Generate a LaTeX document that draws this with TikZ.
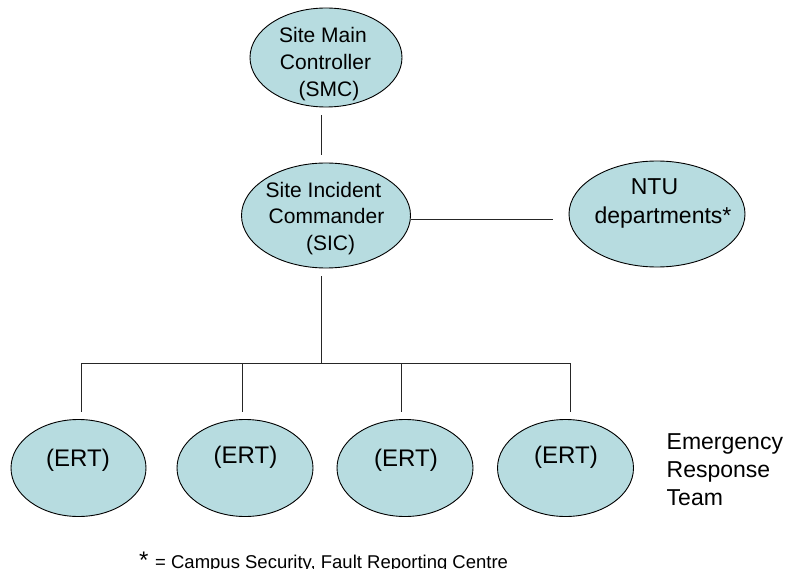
\documentclass[tikz,border=0pt]{standalone}
\usepackage{fontspec}
\setmainfont{Liberation Sans}
\usetikzlibrary{shapes.geometric}
\definecolor{fillblue}{RGB}{183,220,224}
\begin{document}
\begin{tikzpicture}[x=1pt,y=-1pt,
  oval/.style={ellipse, draw=black, line width=0.9pt, fill=fillblue, inner sep=0pt},
  conn/.style={draw=black!85, line width=0.9pt},
  lbl/.style={inner sep=0pt, anchor=base, font=\fontsize{21}{24}\selectfont},
  ntulbl/.style={inner sep=0pt, anchor=base, font=\fontsize{23}{26}\selectfont},
  ertlbl/.style={inner sep=0pt, anchor=base, font=\fontsize{24}{28}\selectfont},
  side/.style={inner sep=0pt, anchor=base west, font=\fontsize{23}{26}\selectfont}]
\useasboundingbox (0,0) rectangle (789,569);

% ellipses
\node[oval, minimum width=152pt, minimum height=99pt] (smc) at (326,57.5) {};
\node[oval, minimum width=169pt, minimum height=105pt] (sic) at (326,215.5) {};
\node[oval, minimum width=176pt, minimum height=106pt] (ntu) at (657,214) {};
\node[oval, minimum width=135pt, minimum height=97pt] (ert1) at (78.5,468) {};
\node[oval, minimum width=136pt, minimum height=97pt] (ert2) at (245,468) {};
\node[oval, minimum width=136pt, minimum height=97pt] (ert3) at (405,468) {};
\node[oval, minimum width=136pt, minimum height=97pt] (ert4) at (565.5,468) {};

% labels
\node[lbl] (smc1) at (323,42.7) {Site Main};
\node[lbl] (smc2) at (325.5,69.3) {Controller};
\node[lbl] (smc3) at (329,96.5) {(SMC)};
\node[lbl] (sic1) at (323.5,197.7) {Site Incident};
\node[lbl] (sic2) at (326.5,224) {Commander};
\node[lbl] (sic3) at (330.5,250.7) {(SIC)};
\node[ntulbl] (ntu1) at (654.5,194.5) {NTU};
\node[ntulbl] (ntu2) at (663,223.5) {departments*};
\node[ertlbl] (ert1t) at (78,466) {(ERT)};
\node[ertlbl] (ert2t) at (245.5,463) {(ERT)};
\node[ertlbl] (ert3t) at (406,466) {(ERT)};
\node[ertlbl] (ert4t) at (566,463) {(ERT)};
\node[side] (team1) at (666.5,449) {Emergency};
\node[side] (team2) at (666.5,477.5) {Response};
\node[side] (team3) at (666.5,505.5) {Team};
\node[inner sep=0pt, anchor=base west] (note) at (139,568)
  {\fontsize{24}{28}\selectfont *\ \fontsize{18.5}{22}\selectfont = Campus Security, Fault Reporting Centre};

% connectors
\coordinate (bus) at (321.5,363);
\draw[conn] ([xshift=-4.5pt,yshift=-8pt]smc.south) -- ([xshift=-4.5pt,yshift=8pt]sic.north);
\draw[conn] ([xshift=-4.5pt,yshift=-8pt]sic.south) -- (bus);
\draw[conn] ([yshift=-4pt]sic.east) -- ([xshift=-16pt,yshift=-5.5pt]ntu.west);
\draw[conn] ([xshift=3pt,yshift=7.5pt]ert1.north) |- (bus);
\draw[conn] ([xshift=-3pt,yshift=7.5pt]ert2.north) |- (bus);
\draw[conn] ([xshift=-3.5pt,yshift=7.5pt]ert3.north) |- (bus);
\draw[conn] ([xshift=4.5pt,yshift=7.5pt]ert4.north) |- (bus);
\end{tikzpicture}
\end{document}
